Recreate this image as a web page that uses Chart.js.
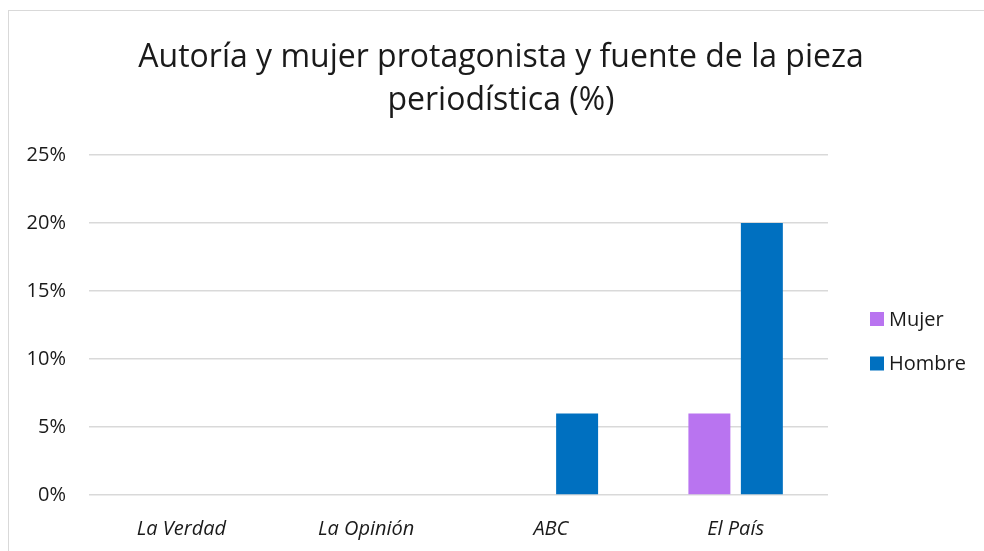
<!DOCTYPE html>
<html>
<head>
<meta charset="utf-8">
<script src="https://cdn.jsdelivr.net/npm/chart.js@4.4.1/dist/chart.umd.min.js"></script>
<style>
html,body{margin:0;padding:0;background:#fff;overflow:hidden;width:984px;height:551px;}
#frame{position:absolute;left:8px;top:10px;width:1000px;height:600px;border:1px solid #d9d9d9;box-sizing:border-box;}
#wrap{position:absolute;left:0;top:0;width:984px;height:551px;}
</style>
</head>
<body>
<div id="frame"></div>
<div id="wrap"><canvas id="c" width="984" height="551"></canvas></div>
<script>
const titleLines = ["Autoría y mujer protagonista y fuente de la pieza", "periodística (%)"];
const categories = ["La Verdad", "La Opinión", "ABC", "El País"];
const seriesNames = ["Mujer", "Hombre"];
const mujer = [0, 0, 0, 6];
const hombre = [0, 0, 6, 20];
const colors = ["#B974F0", "#0070C0"];
const FONT = "'Open Sans', 'DejaVu Sans', sans-serif";
const TEXT = '#1a1a1a';

const decorPlugin = {
  id: 'decor',
  afterDraw(chart) {
    const ctx = chart.ctx;
    ctx.save();
    // title
    ctx.font = "32px " + FONT;
    ctx.fillStyle = TEXT;
    ctx.textAlign = 'center';
    ctx.textBaseline = 'alphabetic';
    const tys = [67, 110];
    titleLines.forEach((t, i) => ctx.fillText(t, 501, tys[i]));
    // legend
    ctx.font = "20px " + FONT;
    ctx.textBaseline = 'middle';
    ctx.textAlign = 'left';
    const ys = [319, 363.5];
    chart.data.datasets.forEach((ds, i) => {
      ctx.fillStyle = ds.backgroundColor;
      ctx.fillRect(870, ys[i] - 7, 14, 14);
      ctx.fillStyle = TEXT;
      ctx.fillText(ds.label, 889, ys[i] + 1);
    });
    ctx.restore();
  }
};

new Chart(document.getElementById('c'), {
  type: 'bar',
  data: {
    labels: categories,
    datasets: [
      { label: seriesNames[0], data: mujer, backgroundColor: colors[0] },
      { label: seriesNames[1], data: hombre, backgroundColor: colors[1] }
    ]
  },
  options: {
    responsive: false,
    animation: false,
    devicePixelRatio: 1,
    categoryPercentage: 0.568,
    barPercentage: 0.8,
    layout: { padding: { left: 0, right: 156, top: 155, bottom: 0 } },
    plugins: {
      legend: { display: false },
      tooltip: { enabled: false },
      title: { display: false }
    },
    scales: {
      y: {
        min: 0, max: 25,
        afterFit: s => { s.width = 89; },
        border: { display: false },
        grid: { color: '#d9d9d9', lineWidth: 1.5, drawTicks: false },
        ticks: {
          stepSize: 5, padding: 23, color: TEXT,
          font: { family: FONT, size: 20 },
          callback: v => v + '%'
        }
      },
      x: {
        afterFit: s => { s.height = 56; },
        border: { display: false },
        grid: { display: false, drawTicks: false },
        ticks: {
          padding: 22, color: TEXT,
          font: { family: FONT, size: 20, style: 'italic' }
        }
      }
    }
  },
  plugins: [decorPlugin]
});
</script>
</body>
</html>
